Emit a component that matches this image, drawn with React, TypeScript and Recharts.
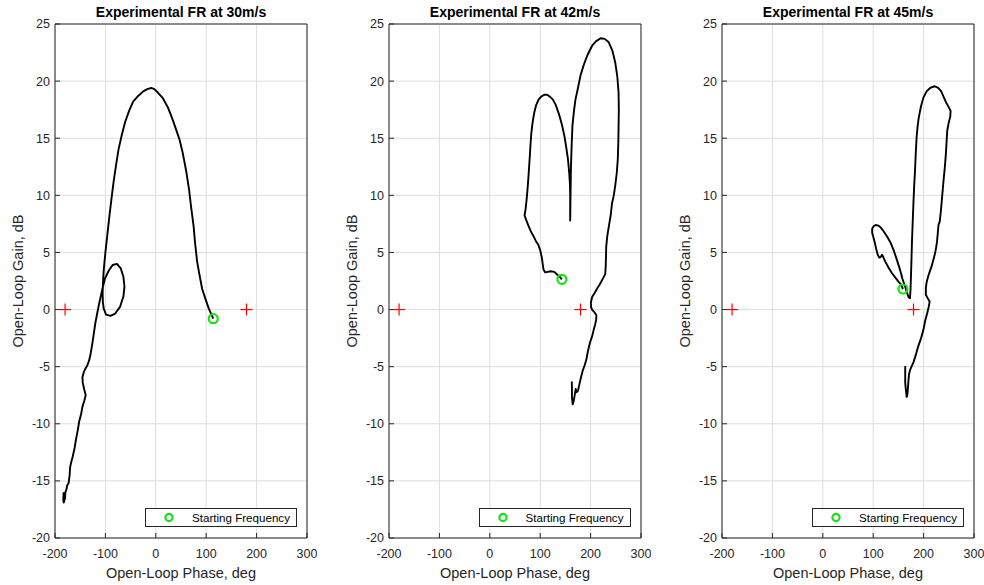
import React from "react";
import {
  ComposedChart,
  Line,
  Scatter,
  XAxis,
  YAxis,
  CartesianGrid,
  Legend,
  Label,
} from "recharts";

const phaseTicks = [-200, -100, 0, 100, 200, 300];
const gainTicks = [-20, -15, -10, -5, 0, 5, 10, 15, 20, 25];
const criticalPhases = [-180, 180];

// 30 m/s, traced from the starting frequency onward
const phase30 = [
  114, 109, 105, 98, 92, 86, 82, 78, 75, 70, 66, 60, 53, 47, 40, 32, 24, 14, 4, -3, -9, -17, -25, -35, -45,
  -53, -61, -68, -74, -79, -84, -88, -92, -96, -100, -103, -104.5, -105.5, -105, -103.3, -98.7, -90, -80.5,
  -70.7, -64.2, -62.2, -64.2, -69.4, -77.2, -85.7, -93.5, -101, -106, -109, -113, -117, -120, -123, -126,
  -129, -132.5, -136, -140, -143, -145.5, -145, -142, -139, -142, -145.5, -148, -152, -155, -158.5, -161,
  -165, -168, -170, -171, -173, -176, -177, -179.5, -180, -182.5, -183.5, -183,
];
const gain30 = [
  -0.8, -0.3, 0.1, 1.0, 1.8, 3.2, 4.2, 5.8, 7.3, 9.0, 10.5, 12.2, 13.8, 14.9, 15.8, 16.8, 17.7, 18.5, 19.0,
  19.3, 19.4, 19.3, 19.1, 18.7, 18.2, 17.4, 16.4, 15.2, 14.0, 12.6, 11.1, 9.7, 8.2, 6.6, 5.0, 3.6, 2.6, 1.4,
  0.6, 0.08, -0.44, -0.55, -0.35, 0.26, 1.16, 2.0, 2.85, 3.6, 4.0, 3.9, 3.4, 2.7, 1.8, 1.2, 0.4, -0.5, -1.2,
  -2.1, -3.0, -3.8, -4.5, -4.9, -5.2, -5.5, -5.9, -6.4, -7.0, -7.5, -8.0, -8.5, -9.1, -9.8, -10.6, -11.4,
  -12.1, -12.9, -13.4, -13.8, -14.5, -15.2, -15.4, -15.7, -16.0, -16.5, -16.9, -16.7, -16.0,
];

// 42 m/s
const phase42 = [
  143, 138, 134, 128, 120, 115, 110, 106.5, 105, 103, 100, 96, 92, 87, 82, 77, 72.5, 69, 71, 73, 75, 76.5,
  78, 79.5, 81, 82.5, 85, 88, 92, 97, 102, 108, 114, 120, 125, 131, 138, 143, 148, 152, 155, 157.5, 159,
  159.5, 159.5, 159.5, 160, 160.5, 161, 162.5, 164, 167, 170, 174, 180, 187, 195, 203, 211, 220, 228, 236,
  243, 249, 253, 255.5, 256, 255.5, 255, 254, 252, 249, 246, 242.5, 240, 237, 233, 231, 230.5, 230, 229, 223,
  218, 213, 208, 203, 200.5, 201, 203.5, 208, 211.5, 211, 209, 206, 203, 199.5, 197, 194, 191.5, 188, 184,
  180, 177, 175, 172, 170.5, 168.5, 166.5, 164.5, 163, 163, 162.7,
];
const gain42 = [
  2.65, 2.9, 3.05, 3.3, 3.35, 3.3, 3.25, 3.5, 4.0, 4.6, 5.2, 5.7, 5.95, 6.4, 6.8, 7.3, 7.8, 8.25, 8.8, 9.6,
  10.6, 11.5, 12.5, 13.5, 14.6, 15.5, 16.4, 17.2, 17.9, 18.4, 18.65, 18.8, 18.8, 18.6, 18.4, 17.9, 17.0, 16.2,
  15.2, 14.1, 13.2, 12.0, 11.0, 10.0, 9.0, 7.8, 9.5, 11.0, 12.5, 14.5, 16.1, 17.4, 18.4, 19.2, 20.5, 21.5,
  22.4, 23.1, 23.5, 23.75, 23.7, 23.4, 22.7, 21.6, 20.4, 19.0, 17.5, 16.0, 14.6, 13.2, 12.0, 10.9, 10.0, 9.3,
  8.3, 7.5, 6.4, 5.5, 4.6, 3.8, 3.1, 2.6, 2.2, 1.85, 1.45, 1.1, 0.6, 0.2, -0.05, -0.25, -0.5, -0.9, -1.3,
  -1.8, -2.35, -2.8, -3.2, -3.8, -4.4, -4.9, -5.4, -6.1, -6.7, -7.1, -7.25, -6.95, -7.5, -8.0, -8.3, -7.7,
  -7.0, -6.3,
];

// 45 m/s
const phase45 = [
  159, 155, 150, 144, 137, 130, 124, 120, 117.5, 115, 112, 109, 106, 103, 100, 98, 98, 101, 105, 110, 114.5,
  120, 127.5, 134, 140.5, 147, 153.5, 158, 163.5, 167, 170, 173, 174, 175, 176, 177, 178.5, 180, 181.5, 183,
  184.5, 186, 188, 190, 193, 196, 200, 206, 213, 222, 229, 235, 240, 245, 250, 253.5, 253, 250, 247, 246, 245,
  244, 242, 240, 238, 236, 234, 232, 229.5, 228, 226.5, 224, 222, 219, 216, 212, 209, 206, 204.5, 204.5, 208,
  212, 210, 207, 203, 199.5, 195, 189.5, 185, 180, 176, 173, 171, 170, 169, 168, 166.5, 165, 163.5, 163.5,
  163.5,
];
const gain45 = [
  1.8, 2.2, 2.45, 2.8, 3.2, 3.7, 4.2, 4.6, 4.8, 4.6, 4.55, 4.8, 5.3, 5.9, 6.4, 6.7, 7.1, 7.3, 7.4, 7.35, 7.2,
  6.9, 6.4, 5.9, 5.2, 4.35, 3.45, 2.7, 2.0, 1.5, 1.1, 1.0, 1.7, 3.0, 4.5, 6.0, 7.8, 9.5, 11.0, 12.2, 13.7,
  15.0, 16.0, 16.7, 17.4, 18.0, 18.6, 19.1, 19.4, 19.55, 19.4, 19.1, 18.6, 18.1, 17.7, 17.4, 16.9, 16.4, 15.7,
  15.0, 14.2, 13.5, 12.4, 11.5, 10.5, 9.5, 8.5, 7.7, 7.4, 6.6, 5.9, 5.2, 4.8, 4.3, 3.8, 3.3, 2.9, 2.4, 1.9,
  1.3, 1.0, 0.7, 0.2, -0.35, -1.0, -1.8, -2.5, -3.2, -3.9, -4.6, -5.0, -5.3, -5.7, -6.2, -6.8, -7.4, -7.65,
  -7.1, -6.4, -5.7, -4.95,
];

const AXIS = "#262626";
const GRID = "#dedede";
const GREEN = "#14e314";
const FONT = '"Liberation Sans", Arial, Helvetica, sans-serif';

const CHART_W = 317;
const CHART_H = 585;

const zip = (phase: number[], gain: number[]) => phase.map((p, i) => ({ phase: p, gain: gain[i] }));

const Cross = (props: any) => {
  const { cx, cy } = props;
  return (
    <g>
      <line x1={cx - 6} x2={cx + 6} y1={cy} y2={cy} stroke="#ff0000" strokeWidth={1.2} />
      <line x1={cx} x2={cx} y1={cy - 6} y2={cy + 6} stroke="#ff0000" strokeWidth={1.2} />
    </g>
  );
};

const Ring = (props: any) => (
  <circle cx={props.cx} cy={props.cy} r={4.5} fill="none" stroke={GREEN} strokeWidth={2.2} />
);

const legendBox = () => (
  <div
    style={{
      boxSizing: "border-box",
      width: 152,
      height: 19,
      border: `1px solid ${AXIS}`,
      background: "#fff",
      position: "relative",
      fontFamily: FONT,
      fontSize: 11.6,
      color: "#000",
    }}
  >
    <svg width={20} height={17} style={{ position: "absolute", left: 13, top: 0 }}>
      <circle cx={10} cy={8.5} r={3.6} fill="none" stroke={GREEN} strokeWidth={2.2} />
    </svg>
    <span style={{ position: "absolute", left: 46, top: 2, lineHeight: "13px", whiteSpace: "nowrap" }}>
      Starting Frequency
    </span>
  </div>
);

function Panel({ title, phase, gain, left }: { title: string; phase: number[]; gain: number[]; left: number }) {
  const curve = zip(phase, gain);
  const start = [curve[0]];
  const critical = criticalPhases.map((p) => ({ phase: p, gain: 0 }));
  return (
    <div style={{ position: "absolute", left, top: 0 }}>
      <ComposedChart width={CHART_W} height={CHART_H} margin={{ top: 23, right: 9, bottom: 46, left: 54 }}>
        <CartesianGrid stroke={GRID} strokeWidth={1} />
        <XAxis
          type="number"
          dataKey="phase"
          domain={[-200, 300]}
          ticks={phaseTicks}
          interval={0}
          height={1}
          allowDataOverflow
          tickSize={-5}
          tickMargin={16}
          axisLine={{ stroke: AXIS }}
          tickLine={{ stroke: AXIS }}
          tick={{ fill: AXIS, fontSize: 12.5, fontFamily: FONT }}
        >
          <Label
            content={(p: any) => (
              <text
                x={p.viewBox.x + p.viewBox.width / 2}
                y={p.viewBox.y + 40}
                textAnchor="middle"
                fill={AXIS}
                fontSize={14.5}
                fontFamily={FONT}
              >
                Open-Loop Phase, deg
              </text>
            )}
          />
        </XAxis>
        <XAxis
          xAxisId="top"
          orientation="top"
          type="number"
          domain={[-200, 300]}
          ticks={phaseTicks}
          interval={0}
          height={1}
          tickSize={-5}
          tick={false}
          axisLine={{ stroke: AXIS }}
          tickLine={{ stroke: AXIS }}
        >
          <Label
            content={(p: any) => (
              <text
                x={p.viewBox.x + p.viewBox.width / 2}
                y={p.viewBox.y - 6}
                textAnchor="middle"
                fill="#000"
                fontSize={14}
                fontWeight="bold"
                fontFamily={FONT}
              >
                {title}
              </text>
            )}
          />
        </XAxis>
        <YAxis
          type="number"
          dataKey="gain"
          domain={[-20, 25]}
          ticks={gainTicks}
          interval={0}
          width={1}
          allowDataOverflow
          tickSize={-5}
          tickMargin={10}
          axisLine={{ stroke: AXIS }}
          tickLine={{ stroke: AXIS }}
          tick={{ fill: AXIS, fontSize: 12.5, fontFamily: FONT }}
        >
          <Label
            content={(p: any) => (
              <text
                transform={`translate(${p.viewBox.x - 31}, ${p.viewBox.y + p.viewBox.height / 2}) rotate(-90)`}
                textAnchor="middle"
                fill={AXIS}
                fontSize={14.5}
                fontFamily={FONT}
              >
                Open-Loop Gain, dB
              </text>
            )}
          />
        </YAxis>
        <YAxis
          yAxisId="right"
          orientation="right"
          type="number"
          domain={[-20, 25]}
          ticks={gainTicks}
          interval={0}
          width={1}
          tickSize={-5}
          tick={false}
          axisLine={{ stroke: AXIS }}
          tickLine={{ stroke: AXIS }}
        />
        <Line
          data={curve}
          dataKey="gain"
          type="linear"
          stroke="#000"
          strokeWidth={1.9}
          strokeLinejoin="round"
          dot={false}
          activeDot={false}
          isAnimationActive={false}
        />
        <Scatter data={critical} dataKey="gain" shape={Cross} isAnimationActive={false} />
        <Scatter data={start} dataKey="gain" shape={Ring} isAnimationActive={false} />
        <Legend
          layout="horizontal"
          verticalAlign="middle"
          align="center"
          content={legendBox}
          wrapperStyle={{ left: 145, top: 508, width: 152, height: 19 }}
        />
      </ComposedChart>
    </div>
  );
}

export default function App() {
  return (
    <div
      style={{
        position: "absolute",
        left: 0,
        top: 0,
        width: 984,
        height: 585,
        background: "#fff",
        overflow: "hidden",
      }}
    >
      <Panel title="Experimental FR at 30m/s" phase={phase30} gain={gain30} left={0} />
      <Panel title="Experimental FR at 42m/s" phase={phase42} gain={gain42} left={333.5} />
      <Panel title="Experimental FR at 45m/s" phase={phase45} gain={gain45} left={667} />
    </div>
  );
}
